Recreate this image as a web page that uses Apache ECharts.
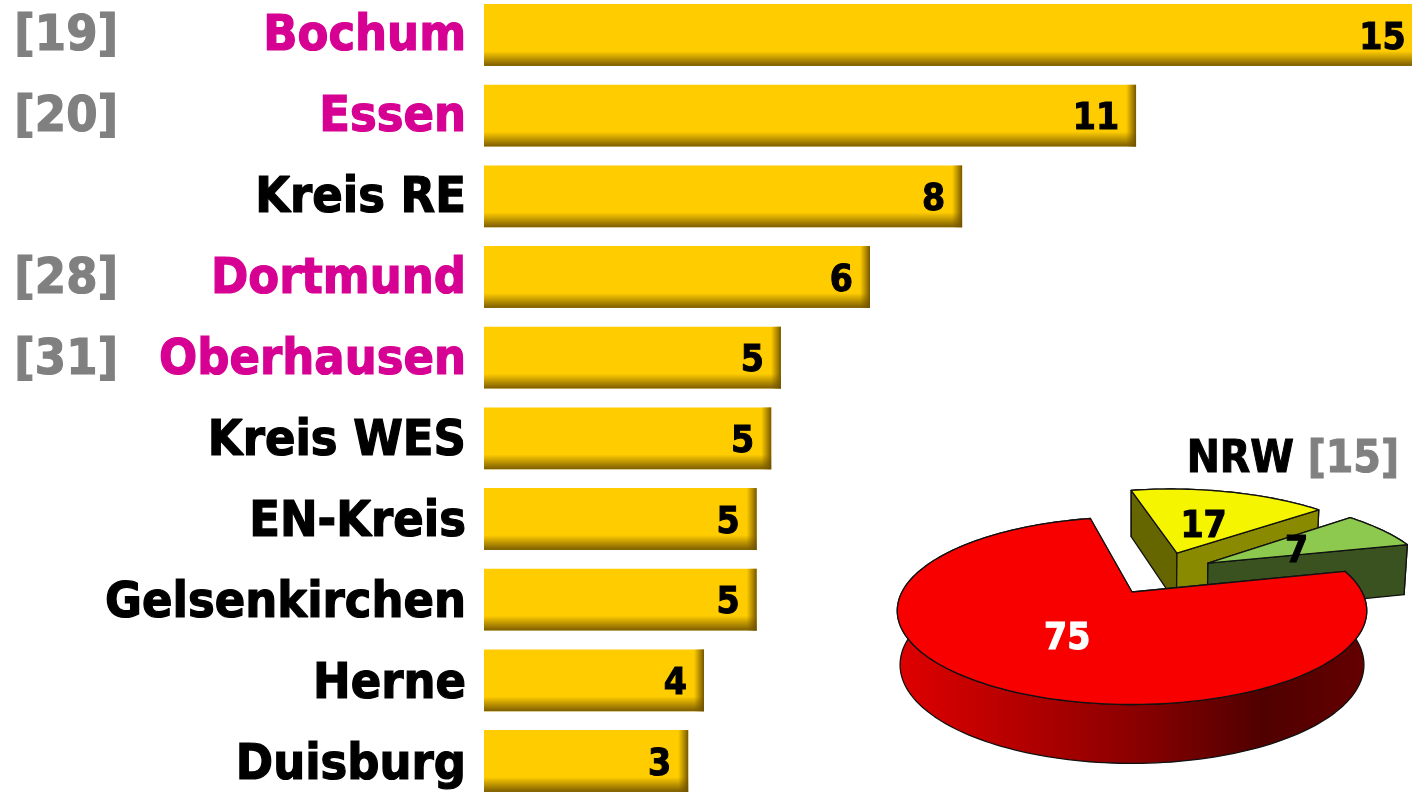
<!DOCTYPE html>
<html><head><meta charset="utf-8">
<style>html,body{margin:0;padding:0;background:#fff;overflow:hidden}#c{width:1412px;height:792px}</style>
<script src="https://cdn.jsdelivr.net/npm/echarts@6/dist/echarts.min.js"></script>
</head><body><div id="c"></div>
<script>
const categories = ['Bochum','Essen','Kreis RE','Dortmund','Oberhausen','Kreis WES','EN-Kreis','Gelsenkirchen','Herne','Duisburg'];
const barValues = [15.49,10.76,7.89,6.37,4.9,4.74,4.5,4.5,3.63,3.37];
const ranks = ['[19]','[20]','','[28]','[31]','','','','',''];
const highlighted = ['Bochum','Essen','Dortmund','Oberhausen'];
const pieNames = ['17','7','75'];
const pieValues = [17.5,7.1,75.4];

const FONT = '"DejaVu Sans Condensed","DejaVu Sans",sans-serif';
// perspective of the pie disc
const P = {x0:1132,y0:592,A:90,B:230,k:0.2,D:53,k2:0.1,shrink:0.988,start:-12.5};
const sliceStyle = [
  {top:'#F5F500',wallA:'#666600',wallB:'#8A8A00',arc:'#666600',ou:0.214,ov:-0.474,r:1.01,label:'#000',lf:0.47},
  {top:'#8DC94E',wallA:'#3A5220',wallB:'#3A5220',arc:'#3A5220',ou:0.353,ov:-0.344,r:1.015,label:'#000',lf:0.49},
  {top:'#F80000',wallA:'#800000',wallB:'#800000',
   arc:{type:'linear',x:897,y:0,x2:1366,y2:0,global:true,colorStops:[{offset:0,color:'#E00000'},{offset:0.5,color:'#8C0000'},{offset:0.78,color:'#500000'},{offset:1,color:'#640000'}]},
   ou:0,ov:0,r:1,label:'#fff',lf:0.49}
];
function proj(u,v,low){
  const w = 1-P.k*v, s = low?P.shrink:1;
  return [P.x0+s*P.B*u/w, P.y0+P.A*v/w+(low?P.D/(1-P.k2*v):0)];
}
function renderSlice(params,api){
  const i = params.dataIndex, st = sliceStyle[i];
  const total = pieValues.reduce((a,b)=>a+b,0);
  let a0 = P.start;
  for(let j=0;j<i;j++) a0 += pieValues[j]/total*360;
  const a1 = a0 + api.value(0)/total*360;
  const at = (deg,r,low)=>{const t=deg*Math.PI/180;return proj(st.ou+r*Math.sin(t),st.ov-r*Math.cos(t),low);};
  const arcT=[],arcB=[];
  for(let d=a0;d<a1;d+=1.5){arcT.push(at(d,st.r,false));arcB.push(at(d,st.r,true));}
  arcT.push(at(a1,st.r,false));arcB.push(at(a1,st.r,true));
  const apexT=at(0,0,false),apexB=at(0,0,true);
  const line={stroke:'#111',lineWidth:1.3,lineJoin:'round'};
  const poly=(pts,fill)=>({type:'polygon',shape:{points:pts},style:Object.assign({fill:fill},line)});
  const children=[
    poly(arcT.concat(arcB.slice().reverse()),st.arc),
    poly([apexT,arcT[0],arcB[0],apexB],st.wallA),
    poly([apexT,arcT[arcT.length-1],arcB[arcB.length-1],apexB],st.wallB),
    poly([apexT].concat(arcT),st.top)
  ];
  const lp=at((a0+a1)/2,st.lf*st.r,false);
  children.push({type:'text',z2:10,style:{x:lp[0],y:lp[1]+6,text:pieNames[i],fill:st.label,stroke:st.label,lineWidth:1,font:'bold 37px '+FONT,align:'center',verticalAlign:'middle'}});
  return {type:'group',children};
}
function renderBevel(params,api){
  const end=api.coord([api.value(0),api.value(1)]);
  const h=62,w=10;
  return {type:'rect',shape:{x:end[0]-w,y:end[1]-h/2,width:w,height:h},
    style:{fill:{type:'linear',x:0,y:0,x2:1,y2:0,colorStops:[{offset:0,color:'rgba(120,90,0,0)'},{offset:1,color:'rgba(110,80,0,0.95)'}]}}};
}
const txt=(c)=>({fontFamily:FONT,fontWeight:'bold',fontSize:50,color:c,textBorderColor:c,textBorderWidth:1.2,padding:[11,0,0,0]});
const chart=echarts.init(document.getElementById('c'),null,{renderer:'canvas'});
chart.setOption({
  animation:false,backgroundColor:'#fff',
  title:{right:7,top:434,text:'{a|NRW }{b|[15]}',itemGap:0,
    textStyle:{rich:{a:{fontFamily:FONT,fontWeight:'bold',fontSize:44,color:'#000',textBorderColor:'#000',textBorderWidth:1},b:{fontFamily:FONT,fontWeight:'bold',fontSize:44,color:'#808080',textBorderColor:'#808080',textBorderWidth:1}}}},
  grid:[
    {left:484,top:-5.3,width:939.3,height:806.7,outerBoundsMode:'none'},
    {left:484,top:-9.2,width:939.3,height:810.5,outerBoundsMode:'none'}
  ],
  xAxis:[
    {type:'value',gridIndex:0,min:0,max:15.5,show:false},
    {type:'value',gridIndex:1,min:0,max:15.5,show:false}
  ],
  yAxis:[
    {type:'category',gridIndex:0,inverse:true,data:categories,axisLine:{show:false},axisTick:{show:false},axisLabel:{show:false}},
    {type:'category',gridIndex:1,inverse:true,data:categories,axisLine:{show:false},axisTick:{show:false},
     axisLabel:{interval:0,margin:18,formatter:v=>highlighted.includes(v)?'{m|'+v+'}':'{k|'+v+'}',rich:{m:txt('#D60093'),k:txt('#000')}}},
    {type:'category',gridIndex:1,inverse:true,position:'left',offset:366,data:ranks,axisLine:{show:false},axisTick:{show:false},
     axisLabel:{interval:0,margin:0,formatter:v=>v?'{g|'+v+'}':'',rich:{g:txt('#808080')}}}
  ],
  series:[
    {type:'bar',data:barValues,barWidth:62,xAxisIndex:0,yAxisIndex:0,
     itemStyle:{color:{type:'linear',x:0,y:0,x2:0,y2:1,colorStops:[{offset:0,color:'#FFCC00'},{offset:0.76,color:'#FFCC00'},{offset:0.99,color:'#806000'},{offset:1,color:'#B89A30'}]}},
     label:{show:true,position:'insideRight',distance:17,offset:[0,4],color:'#000',textBorderColor:'#000',textBorderWidth:1,fontFamily:FONT,fontWeight:'bold',fontSize:37,formatter:p=>String(Math.round(p.value))}},
    {type:'custom',coordinateSystem:'cartesian2d',xAxisIndex:0,yAxisIndex:0,silent:true,z:3,data:barValues.map((v,i)=>[v,i]),encode:{x:0,y:1},renderItem:renderBevel,clip:false},
    {type:'custom',coordinateSystem:'none',silent:true,z:5,data:pieValues.map(v=>[v]),renderItem:renderSlice}
  ]
});
</script></body></html>
